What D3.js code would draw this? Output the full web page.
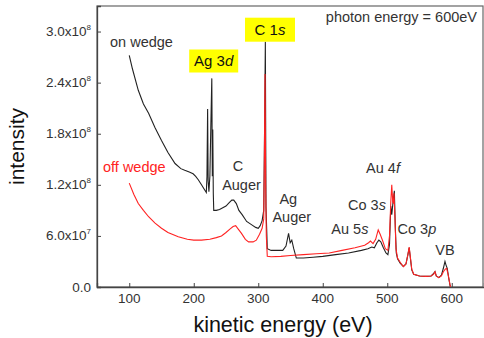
<!DOCTYPE html>
<html>
<head>
<meta charset="utf-8">
<script src="https://cdn.jsdelivr.net/npm/d3@7"></script>
<style>
  body { margin: 0; background: #fff; }
  svg { display: block; font-family: "Liberation Sans", Arial, sans-serif; }
</style>
</head>
<body>
<svg width="484" height="338"></svg>
<script>
// spectra (kinetic energy in eV, intensity in units of 1e7)
const onWedgeE = [100, 105, 114, 122, 130, 140, 150, 160, 171, 180, 186, 193, 199, 203, 207, 212, 217, 219.5, 220.5, 221.5, 222.3, 223.5, 225, 226.5, 228, 228.8, 229.5, 230.3, 231, 235, 240, 245, 250, 255, 259, 262, 266, 270, 275, 282, 290, 296, 300, 303, 306, 308.5, 310, 311, 312, 313, 314, 320, 330, 338, 343, 347, 349.5, 352, 355, 359, 370, 385, 400, 420, 440, 460, 470, 476, 480, 484, 487, 490, 494, 498, 501, 503.5, 505.5, 507, 509, 511, 512.5, 514, 516, 520, 525, 529, 532, 534, 536, 538, 541, 550, 560, 568, 572, 574, 576, 580, 584, 587, 589.5, 591, 593, 595, 597, 598];
const onWedgeI = [27.2, 25.6, 23.1, 21.5, 20.4, 18.7, 17.2, 15.8, 14.5, 13.9, 13.7, 13.5, 13.3, 13.0, 12.6, 12.0, 11.4, 11.1, 13, 20.9, 12.5, 11.2, 13, 19, 24.5, 13, 18.5, 11, 9.0, 9.0, 9.1, 9.3, 9.5, 9.9, 10.2, 10.2, 9.8, 9.0, 8.5, 7.7, 7.3, 7.0, 6.9, 7.2, 7.8, 9, 20, 28.8, 9.4, 7, 4.5, 4.3, 4.3, 4.3, 4.8, 6.3, 5.2, 5.5, 4.5, 3.4, 3.4, 3.5, 3.6, 3.8, 4.0, 4.3, 4.5, 4.7, 4.6, 5.2, 5.5, 5.3, 4.6, 4.0, 3.8, 5, 9.5, 8.5, 10, 11.3, 7, 4, 3.3, 2.8, 2.4, 2.7, 3.8, 4.6, 3.3, 2.0, 1.5, 1.3, 1.25, 1.3, 1.6, 1.8, 1.3, 1.1, 1.4, 2.2, 3.0, 2.6, 2.2, 1.2, 0.3, 0];

const offWedgeE = [100, 107, 114, 122, 130, 140, 150, 160, 176, 190, 200, 212, 225, 235, 243, 250, 256, 261, 265, 269, 274, 280, 285, 292, 297, 302, 306, 308.5, 309.5, 310.5, 311.5, 312.5, 314, 320, 335, 350, 370, 390, 410, 430, 450, 465, 471, 474, 478, 482, 486, 489, 493, 497, 501, 503.5, 505.5, 507, 508.5, 509.5, 510.5, 512, 513.5, 516, 520, 525, 529, 532, 534, 536, 538, 541, 550, 560, 568, 572, 574, 576, 580, 584, 587, 590, 592, 594, 596, 598];
const offWedgeI = [12.2, 10.9, 9.8, 9.0, 8.25, 7.5, 6.9, 6.4, 5.9, 5.6, 5.5, 5.5, 5.6, 5.8, 6.0, 6.4, 6.8, 7.1, 7.2, 6.8, 6.3, 5.6, 5.3, 5.3, 5.5, 6.2, 6.9, 8, 15, 25, 12, 6, 3.6, 3.55, 3.6, 3.7, 3.8, 3.9, 4.0, 4.3, 4.6, 4.9, 5.2, 5.4, 5.1, 5.6, 6.7, 6.2, 5.4, 4.5, 4.3, 6, 10, 12.0, 10, 9.8, 11, 8, 4.5, 3.4, 2.9, 2.4, 2.7, 3.8, 4.7, 3.4, 2.1, 1.5, 1.3, 1.25, 1.3, 1.5, 1.8, 1.3, 1.1, 1.3, 1.8, 2.1, 2.2, 1.6, 0.8, 0];

// tick labels
const xTicks = [100, 200, 300, 400, 500, 600];
const yTicks = [0, 6e7, 1.2e8, 1.8e8, 2.4e8, 3.0e8];
const yTickMant = ["0.0", "6.0x10", "1.2x10", "1.8x10", "2.4x10", "3.0x10"];
const yTickExp = ["", "7", "8", "8", "8", "8"];

// peak labels: [text, italic part, energy, intensity(1e7) of the baseline]
const peakLabels = [
    ["C", "", 268.6, 13.6],
    ["Auger", "", 274, 11.4],
    ["Ag", "", 346.6, 9.7],
    ["Auger", "", 352, 7.6],
    ["Au 5", "s", 442, 6.2],
    ["Co 3", "s", 468.6, 9.0],
    ["Au 4", "f", 493.4, 13.4],
    ["Co 3", "p", 546, 6.2],
    ["VB", "", 589.5, 3.8]
];

const svg = d3.select('svg');
const margin = {left: 97, top: 6, right: 484, bottom: 287};

const x = d3.scaleLinear().domain([50, 650]).range([margin.left, margin.right]);
const y = d3.scaleLinear().domain([0, 3.3e8]).range([margin.bottom, margin.top]);

const axisColor = '#444';
const textColor = '#333';
const labelSize = 14.5;

// frame
svg.append('rect')
    .attr('x', margin.left)
    .attr('y', margin.top)
    .attr('width', margin.right - margin.left - 1)
    .attr('height', margin.bottom - margin.top)
    .attr('fill', 'none')
    .attr('stroke', '#666')
    .attr('stroke-width', 1.2);

// x axis, ticks point inward
const xAxis = svg.append('g').attr('transform', `translate(0,${margin.bottom})`);
xAxis.call(d3.axisBottom(x).tickValues(d3.range(100, 651, 50)).tickSize(-2).tickFormat(''))
    .call(g => g.select('.domain').remove());
xAxis.call(d3.axisBottom(x).tickValues(xTicks).tickSize(-4).tickFormat(''))
    .call(g => g.select('.domain').attr('stroke', axisColor).attr('stroke-width', 1.3));
xAxis.selectAll('line').attr('stroke', axisColor);
xAxis.selectAll('.xlab')
    .data(xTicks)
    .join('text')
    .attr('x', d => x(d))
    .attr('y', 16)
    .attr('text-anchor', 'middle')
    .attr('font-size', 13.5)
    .attr('fill', textColor)
    .text(d => d);

// y axis, ticks point inward
const yAxis = svg.append('g').attr('transform', `translate(${margin.left},0)`);
yAxis.call(d3.axisLeft(y).tickValues(d3.range(0, 3.31e8, 3e7)).tickSize(-2).tickFormat(''))
    .call(g => g.select('.domain').remove());
yAxis.call(d3.axisLeft(y).tickValues(yTicks).tickSize(-4).tickFormat(''))
    .call(g => g.select('.domain').attr('stroke', axisColor).attr('stroke-width', 1.3));
yAxis.selectAll('line').attr('stroke', axisColor);
const ylab = yAxis.selectAll('.ylab')
    .data(yTicks)
    .join('text')
    .attr('x', -6)
    .attr('y', d => y(d) + 4.5)
    .attr('text-anchor', 'end')
    .attr('font-size', 13.5)
    .attr('fill', textColor);
ylab.append('tspan').text((d, i) => yTickMant[i]);
ylab.append('tspan')
    .attr('font-size', 8)
    .attr('dy', -6)
    .text((d, i) => yTickExp[i]);

// axis titles
svg.append('text')
    .attr('x', 283)
    .attr('y', 332)
    .attr('text-anchor', 'middle')
    .attr('font-size', 21.5)
    .attr('fill', '#111')
    .text('kinetic energy (eV)');
svg.append('text')
    .attr('transform', `translate(24,${(margin.top + margin.bottom) / 2}) rotate(-90)`)
    .attr('text-anchor', 'middle')
    .attr('font-size', 21)
    .attr('fill', '#111')
    .text('intensity');

// spectra
const line = d3.line()
    .x(d => x(d[0]))
    .y(d => y(d[1] * 1e7));

svg.append('path')
    .datum(onWedgeE.map((e, i) => [e, onWedgeI[i]]))
    .attr('d', line)
    .attr('fill', 'none')
    .attr('stroke', '#222')
    .attr('stroke-width', 1.1);

svg.append('path')
    .datum(offWedgeE.map((e, i) => [e, offWedgeI[i]]))
    .attr('d', line)
    .attr('fill', 'none')
    .attr('stroke', '#ff2222')
    .attr('stroke-width', 1.1);

// series labels
svg.append('text')
    .attr('x', 110).attr('y', 47)
    .attr('font-size', labelSize).attr('fill', textColor)
    .text('on wedge');
svg.append('text')
    .attr('x', 103).attr('y', 172)
    .attr('font-size', labelSize).attr('fill', '#ff2222')
    .text('off wedge');

svg.append('text')
    .attr('x', 477).attr('y', 22)
    .attr('text-anchor', 'end')
    .attr('font-size', labelSize).attr('fill', textColor)
    .text('photon energy = 600eV');

// yellow highlighted labels
function boxLabel(cx, cy, w, h, plain, ital) {
    svg.append('rect')
        .attr('x', cx - w / 2).attr('y', cy - h / 2)
        .attr('width', w).attr('height', h)
        .attr('fill', '#ffff00');
    const t = svg.append('text')
        .attr('x', cx).attr('y', cy + 5)
        .attr('text-anchor', 'middle')
        .attr('font-size', 15).attr('fill', '#111');
    t.append('tspan').text(plain);
    t.append('tspan').attr('font-style', 'italic').text(ital);
}
boxLabel(213.7, 61, 49, 23, 'Ag 3', 'd');
boxLabel(270, 29.7, 50, 24, 'C 1', 's');

// peak annotations
const lab = svg.selectAll('.peak')
    .data(peakLabels)
    .join('text')
    .attr('x', d => x(d[2]))
    .attr('y', d => y(d[3] * 1e7))
    .attr('text-anchor', 'middle')
    .attr('font-size', labelSize)
    .attr('fill', textColor);
lab.append('tspan').text(d => d[0]);
lab.append('tspan').attr('font-style', 'italic').text(d => d[1]);
</script>
</body>
</html>
